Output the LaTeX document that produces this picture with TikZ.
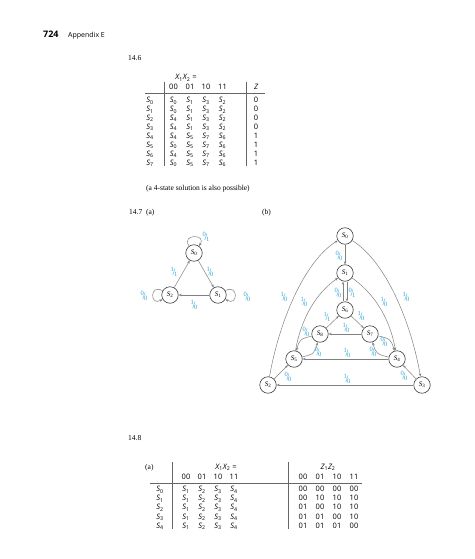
\documentclass[tikz,border=0pt]{standalone}
\usepackage{fontspec}
\setmainfont{Liberation Serif}
\newfontfamily\sff{Open Sans}
\usetikzlibrary{arrows.meta}
\definecolor{lbl}{RGB}{50,165,212}
\newcommand\St[1]{{\itshape S}\textsubscript{#1}}
\newcommand\Xx{{\itshape X}\textsubscript{1}{\itshape X}\textsubscript{2}}
\newcommand\Zz{{\itshape Z}\textsubscript{1}{\itshape Z}\textsubscript{2}}
\newcommand\fr[2]{\raisebox{0.65ex}{\fontsize{6.5}{6.5}\selectfont #1}\kern-0.12em\raisebox{-0.15ex}{\fontsize{10}{10}\selectfont /}\kern-0.14em\raisebox{-0.55ex}{\fontsize{6.5}{6.5}\selectfont #2}}
\newcommand\rowA[6]{%
 \node[tf] (A#1s) at (150,{102.8+8.9*#1}) {\St{#1}};
 \node[tf] (A#1a) at (173.5,{102.8+8.9*#1}) {\St{#2}};
 \node[tf] (A#1b) at (190,{102.8+8.9*#1}) {\St{#3}};
 \node[tf] (A#1c) at (206,{102.8+8.9*#1}) {\St{#4}};
 \node[tf] (A#1d) at (222.5,{102.8+8.9*#1}) {\St{#5}};
 \node[tf] (A#1z) at (256,{102.8+8.9*#1}) {#6};}
\newcommand\rowB[5]{%
 \node[tf] (B#1s) at (160,{491.7+9.1*#1}) {\St{#1}};
 \node[tf] (B#1a) at (186,{491.7+9.1*#1}) {\St{1}};
 \node[tf] (B#1b) at (202,{491.7+9.1*#1}) {\St{2}};
 \node[tf] (B#1c) at (218,{491.7+9.1*#1}) {\St{3}};
 \node[tf] (B#1d) at (234,{491.7+9.1*#1}) {\St{4}};
 \node[tf] (B#1e) at (303,{491.7+9.1*#1}) {#2};
 \node[tf] (B#1f) at (320,{491.7+9.1*#1}) {#3};
 \node[tf] (B#1g) at (337,{491.7+9.1*#1}) {#4};
 \node[tf] (B#1h) at (354,{491.7+9.1*#1}) {#5};}
\begin{document}
\begin{tikzpicture}[x=1pt,y=-1pt,
 st/.style={circle,draw=black!75,line width=0.6pt,minimum size=16.5pt,inner sep=0pt,font=\fontsize{7}{7}\selectfont},
 ed/.style={draw=black!50,line width=0.5pt,-{Stealth[length=3.2pt,width=2.4pt]}},
 lb/.style={text=lbl,inner sep=0pt},
 tf/.style={font=\sff\fontsize{7.5}{8}\selectfont,inner sep=0pt,anchor=base},
 tx/.style={font=\fontsize{7.5}{9}\selectfont,inner sep=0pt,anchor=base west},
 rl/.style={draw=black!60,line width=0.5pt}]
\useasboundingbox (0,0) rectangle (474,559);
% header
\node[font=\sff\bfseries\fontsize{9}{10}\selectfont,inner sep=0pt,anchor=base west] (pg) at (43,38) {724};
\node[font=\sff\fontsize{7}{8}\selectfont,inner sep=0pt,anchor=base west] (app) at (68,38) {Appendix E};
% 14.6
\node[tx] (p146) at (128,61) {14.6};
\node[tf] (Ahx) at (186,80) {\Xx\ =};
\node[tf] (Ah0) at (173.5,89.5) {00};
\node[tf] (Ah1) at (190,89.5) {01};
\node[tf] (Ah2) at (206,89.5) {10};
\node[tf] (Ah3) at (222.5,89.5) {11};
\node[tf] (Ahz) at (256,89.5) {\itshape Z};
\draw[rl] (145,93) -- (265,93);
\draw[rl] (164,82) -- (164,166);
\draw[rl] (246,82) -- (246,166);
\rowA{0}{0}{1}{3}{2}{0}
\rowA{1}{0}{1}{3}{2}{0}
\rowA{2}{4}{1}{3}{2}{0}
\rowA{3}{4}{1}{3}{2}{0}
\rowA{4}{4}{5}{7}{6}{1}
\rowA{5}{0}{5}{7}{6}{1}
\rowA{6}{4}{5}{7}{6}{1}
\rowA{7}{0}{5}{7}{6}{1}
\node[tx] (note) at (146,190) {(a 4-state solution is also possible)};
% 14.7
\node[tx] (p147) at (129,214) {14.7\ \ (a)};
\node[tx] (p147b) at (262,214) {(b)};
% (a)
\node[st] (a0) at (194,253) {\St{0}};
\node[st] (a1) at (218,295) {\St{1}};
\node[st] (a2) at (170,295) {\St{2}};
\draw[ed] (a2) -- (a0);
\draw[ed] (a0) -- (a1);
\draw[ed] (a1) -- (a2);
\draw[ed] (a0.125) .. controls +(-125:15) and +(-55:15) .. (a0.55);
\draw[ed] (a2.150) .. controls +(-150:15) and +(-210:15) .. (a2.210);
\draw[ed] (a1.30) .. controls +(-30:15) and +(30:15) .. (a1.-30);
\node[lb] (la1) at (206,237) {\fr01};
\node[lb] (la2) at (174,272) {\fr11};
\node[lb] (la3) at (210,272) {\fr10};
\node[lb] (la4) at (194,305) {\fr10};
\node[lb] (la5) at (144,296) {\fr00};
\node[lb] (la6) at (247,297) {\fr00};
% (b)
\node[st] (b0) at (345,236) {\St{0}};
\node[st] (b1) at (345,273) {\St{1}};
\node[st] (b6) at (345,310) {\St{6}};
\node[st] (b8) at (320,334) {\St{8}};
\node[st] (b7) at (370,334) {\St{7}};
\node[st] (b5) at (294,359) {\St{5}};
\node[st] (b4) at (397,359) {\St{4}};
\node[st] (b2) at (268,385) {\St{2}};
\node[st] (b3) at (422,385) {\St{3}};
\draw[ed] (b0) -- (b1);
\draw[ed] ([xshift=-2pt]b6.north) -- ([xshift=-2pt]b1.south);
\draw[ed] ([xshift=2pt]b1.south) -- ([xshift=2pt]b6.north);
\draw[ed] (b2.80) .. controls +(-80:55) and +(-212:40) .. (b0.212);
\draw[ed] (b0.-32) .. controls +(32:40) and +(-100:55) .. (b3.100);
\draw[ed] (b5.80) .. controls +(-80:35) and +(-215:25) .. (b1.215);
\draw[ed] (b1.-35) .. controls +(35:25) and +(-100:35) .. (b4.100);
\draw[ed] (b8) -- (b6);
\draw[ed] (b6) -- (b7);
\draw[ed] (b7) -- (b8);
\draw[ed] (b8.194) .. controls +(-194:12) and +(-74:12) .. (b5.74);
\draw[ed] (b5.14) .. controls +(-14:12) and +(-254:12) .. (b8.254);
\draw[ed] (b7.347) .. controls +(-347:12) and +(-107:12) .. (b4.107);
\draw[ed] (b4.167) .. controls +(-167:12) and +(-287:12) .. (b7.287);
\draw[ed] (b4) -- (b5);
\draw[ed] (b2) -- (b5);
\draw[ed] (b3) -- (b4);
\draw[ed] (b3) -- (b2);
\node[lb] (lb1) at (339,256) {\fr00};
\node[lb] (lb2) at (338,293) {\fr00};
\node[lb] (lb3) at (352,293) {\fr01};
\node[lb] (lb4) at (284,297) {\fr10};
\node[lb] (lb5) at (304,302) {\fr10};
\node[lb] (lb6) at (384,302) {\fr10};
\node[lb] (lb7) at (406,297) {\fr10};
\node[lb] (lb8) at (327,317) {\fr11};
\node[lb] (lb9) at (361,316) {\fr10};
\node[lb] (lb10) at (346,328) {\fr10};
\node[lb] (lb11) at (306,332) {\fr00};
\node[lb] (lb12) at (318,352) {\fr00};
\node[lb] (lb13) at (384,342) {\fr00};
\node[lb] (lb14) at (373,352) {\fr00};
\node[lb] (lb15) at (347,353) {\fr10};
\node[lb] (lb16) at (288,377) {\fr00};
\node[lb] (lb17) at (404,376) {\fr00};
\node[lb] (lb18) at (347,379) {\fr10};
% 14.8
\node[tx] (p148) at (128,440) {14.8};
\node[tx] (p148a) at (145,469) {(a)};
\node[tf] (Bhx) at (226,469) {\Xx\ =};
\node[tf] (Bhz) at (328,469) {\Zz};
\node[tf] (Bh0) at (186,479) {00};
\node[tf] (Bh1) at (202,479) {01};
\node[tf] (Bh2) at (218,479) {10};
\node[tf] (Bh3) at (234,479) {11};
\node[tf] (Bh4) at (303,479) {00};
\node[tf] (Bh5) at (320,479) {01};
\node[tf] (Bh6) at (337,479) {10};
\node[tf] (Bh7) at (354,479) {11};
\draw[rl] (150,483) -- (362,483);
\draw[rl] (172,462) -- (172,529);
\draw[rl] (288,462) -- (288,529);
\rowB{0}{00}{00}{00}{00}
\rowB{1}{00}{10}{10}{10}
\rowB{2}{01}{00}{10}{10}
\rowB{3}{01}{01}{00}{10}
\rowB{4}{01}{01}{01}{00}
\end{tikzpicture}
\end{document}
